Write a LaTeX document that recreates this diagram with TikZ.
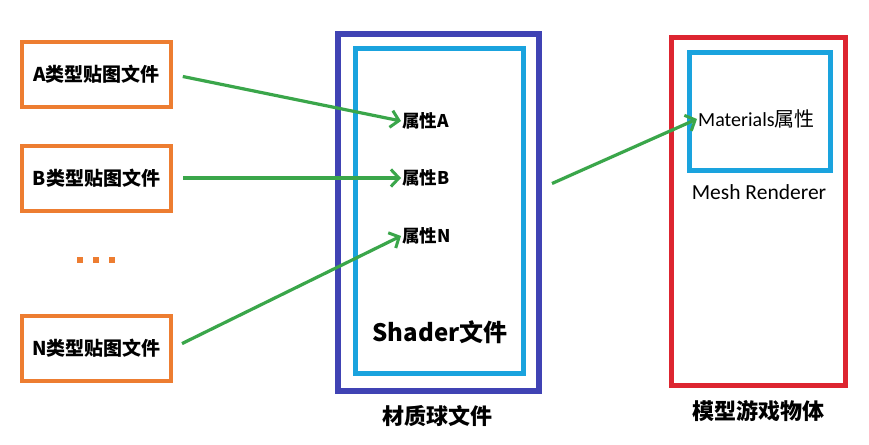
\documentclass[tikz,border=0pt]{standalone}
\usepackage{fontspec}
\setmainfont{Noto Sans CJK SC}
\newfontfamily\calib{Carlito}
\usetikzlibrary{arrows.meta,calc}
\definecolor{orng}{HTML}{ED7D31}
\definecolor{dblue}{HTML}{4043B4}
\definecolor{cyanb}{HTML}{1AA3DE}
\definecolor{redb}{HTML}{DD2530}
\definecolor{grn}{HTML}{3AA64A}
\tikzset{
  texbox/.style={draw=orng, line width=4pt, minimum width=149pt, minimum height=65pt, inner sep=0pt, font=\fontsize{19}{22}\selectfont\bfseries},
  prop/.style={inner sep=1pt, font=\fontsize{17.5}{20}\selectfont\bfseries, anchor=west},
  lbl/.style={inner sep=0pt, font=\fontsize{22}{26}\selectfont\bfseries},
  garrow/.style={draw=grn, line width=3.2pt, -{Straight Barb[length=8pt,width=17pt,line width=3pt]}},
  dotsq/.style={fill=orng, minimum size=6pt, inner sep=0pt}
}
\begin{document}
\begin{tikzpicture}[x=1pt,y=-1pt]
\useasboundingbox (0,0) rectangle (869,444);
\fill[white] (0,0) rectangle (869,444);
% left boxes
\node[texbox] (A) at (96.5,74.5) {A类型贴图文件};
\node[texbox] (B) at (96.5,178) {B类型贴图文件};
\node[texbox] (N) at (96.5,348) {N类型贴图文件};
\node[dotsq] (d1) at (80,260) {};
\node[dotsq] (d2) at (96,260) {};
\node[dotsq] (d3) at (112,260) {};
% material ball
\node[draw=dblue, line width=6pt, minimum width=201pt, minimum height=357pt, inner sep=0pt] (mat) at (438.5,212.5) {};
\node[draw=cyanb, line width=5pt, minimum width=168pt, minimum height=324pt, inner sep=0pt] (shader) at (439,211) {};
\node[prop] (pA) at (401,121) {属性A};
\node[prop] (pB) at (401,178) {属性B};
\node[prop] (pN) at (401,236) {属性N};
\node[inner sep=0pt, font=\fontsize{24}{28}\selectfont\bfseries] (sh) at (440,332) {Shader文件};
\node[lbl] (matl) at (437,416) {材质球文件};
% model
\node[draw=redb, line width=5pt, minimum width=174pt, minimum height=347pt, inner sep=0pt] (model) at (758,211.5) {};
\node[draw=cyanb, line width=5pt, minimum width=141pt, minimum height=117pt, inner sep=0pt] (mr) at (759.5,111.5) {};
\node[inner sep=1pt, font=\fontsize{20}{24}\selectfont, anchor=west] (matp) at (697,119) {{\calib Materials}属性};
\node[inner sep=0pt, font=\calib\fontsize{21.5}{26}\selectfont] (mrl) at (759,192) {Mesh Renderer};
\node[lbl] (modl) at (758,411) {模型游戏物体};
% arrows
\draw[garrow, shorten <=10pt] (A.east) -- (pA.west);
\draw[garrow, shorten <=10pt] (B.east) -- (pB.west);
\draw[garrow, shorten <=10pt] (N.east) -- (pN.west);
\coordinate (s) at ($(mat.east)+(10,-29)$);
\draw[garrow] (s) -- (matp.west);
\end{tikzpicture}
\end{document}
